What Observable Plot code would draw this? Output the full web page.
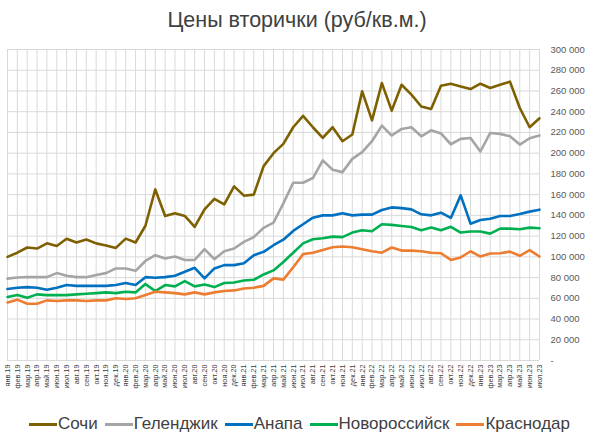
<!DOCTYPE html>
<html>
<head>
<meta charset="utf-8">
<script src="https://cdn.jsdelivr.net/npm/d3@7"></script>
<script src="https://cdn.jsdelivr.net/npm/@observablehq/plot@0.6"></script>
<style>
  body { margin: 0; background: #fff; font-family: "Liberation Sans", sans-serif; }
  #wrap { width: 594px; height: 445px; position: relative; }
  #title { height: 40px; line-height: 40px; text-align: center; font-size: 21.5px; color: #404040; }
  #legend { position: absolute; top: 414px; left: 29px; display: flex; font-size: 17px; color: #404040; white-space: nowrap; }
  #legend span.item { display: flex; align-items: center; margin-right: 7px; }
  #legend span.sw { display: inline-block; width: 28px; height: 3px; margin-right: 1px; }
</style>
</head>
<body>
<div id="wrap">
  <div id="title">Цены вторички (руб/кв.м.)</div>
  <div id="chart"></div>
  <div id="legend"></div>
</div>
<script>
// месяцы
const months = [
  "янв.19","фев.19","мар.19","апр.19","май.19","июн.19","июл.19","авг.19","сен.19","окт.19","ноя.19","дек.19",
  "янв.20","фев.20","мар.20","апр.20","май.20","июн.20","июл.20","авг.20","сен.20","окт.20","ноя.20","дек.20",
  "янв.21","фев.21","мар.21","апр.21","май.21","июн.21","июл.21","авг.21","сен.21","окт.21","ноя.21","дек.21",
  "янв.22","фев.22","мар.22","апр.22","май.22","июн.22","июл.22","авг.22","сен.22","окт.22","ноя.22","дек.22",
  "янв.23","фев.23","мар.23","апр.23","май.23","июн.23","июл.23"
];

const cities = ["Сочи", "Геленджик", "Анапа", "Новороссийск", "Краснодар"];
const colors = ["#7F6000", "#A5A5A5", "#0070C0", "#00B050", "#ED7D31"];

const sochi = [
  100000,104000,109000,108000,113000,110500,117500,113800,116700,113000,111000,108600,
  117600,113800,130000,165000,139400,142000,139400,128800,145800,156000,150600,168000,
  159000,160000,187500,200000,209000,225000,236000,225000,214700,225000,211500,218000,
  259600,231700,267600,241000,266000,256400,245000,242600,265000,267000,264400,261800,
  267000,262800,266000,269000,243600,225000,233600
];
const gelendzhik = [
  79000,80000,80400,80400,80400,84300,81700,80400,80400,82400,84300,88800,
  88800,86500,96000,101600,98400,100300,97000,97000,107400,97800,105400,108000,
  114400,119000,128000,133000,151600,171500,171500,176000,193000,184000,181700,194500,
  201000,211500,226600,217000,223400,225000,216300,222000,219000,208600,213800,214700,
  201600,219500,218600,216300,208300,214400,217000
];
const anapa = [
  69000,70200,70800,70200,68300,70200,72800,72000,72000,72000,72000,72800,
  74700,72800,80400,79800,80400,81700,85600,89400,79200,88800,92000,92000,
  93900,101600,104800,111200,116500,125000,131400,137800,140000,140000,142000,140000,
  140700,140700,145200,147700,147000,145800,141000,140000,142600,137500,159300,132000,
  135600,136800,139400,139400,141300,143600,145500
];
const novoross = [
  61200,63100,60600,63800,63100,63100,63100,63800,64400,65000,65700,65000,
  66300,65700,73700,67000,72800,71500,76600,71500,73400,70800,74700,75300,
  77200,77900,83000,86900,95000,104000,113000,117000,118000,119500,119000,123400,
  125600,124700,131400,130800,129800,128800,125600,128200,125600,129000,123400,124400,
  124400,122400,127200,127200,126600,128200,127600
];
const krasnodar = [
  56000,58700,54800,54800,58000,57400,58000,58000,57400,58000,58000,60000,
  59300,60000,63100,66300,65700,65000,63800,65700,63800,65700,67000,67600,
  69500,70200,72000,79200,78000,90000,102600,104000,106700,109300,110000,109300,
  107400,105400,104000,109000,106000,106000,105400,104000,103500,97000,99400,105400,
  100300,103200,103500,105000,101000,106400,100300
];

const yTicks = d3.range(0, 300001, 20000);

const series = [sochi, gelendzhik, anapa, novoross, krasnodar];
const rows = [];
series.forEach((vals, k) => vals.forEach((v, i) => rows.push({city: cities[k], month: months[i], value: v})));

const fmt = d => d === 0 ? "-" : d3.format(",")(d).replace(/,/g, " ");

const chart = Plot.plot({
  width: 594,
  height: 370,
  marginTop: 9,
  marginBottom: 50,
  marginLeft: 7,
  marginRight: 55,
  style: {fontFamily: "Liberation Sans, sans-serif", color: "#595959"},
  x: {type: "point", domain: months, padding: 0},
  y: {domain: [0, 300000]},
  color: {domain: cities, range: colors},
  marks: [
    Plot.gridY(yTicks, {stroke: "#d9d9d9", strokeOpacity: 1}),
    Plot.gridX(months, {stroke: "#d9d9d9", strokeOpacity: 1}),
    Plot.axisY(yTicks, {anchor: "right", tickSize: 0, tickPadding: 11, textAnchor: "start", tickFormat: fmt, fontSize: 9.5, fill: "#595959", label: null}),
    Plot.axisX({tickSize: 0, tickPadding: 4, tickRotate: -90, fontSize: 7.3, fill: "#404040", label: null}),
    Plot.line(rows, {x: "month", y: "value", z: "city", stroke: "city", strokeWidth: 2.6, strokeLinejoin: "round"})
  ]
});
document.getElementById("chart").append(chart);

// легенда
const legend = d3.select("#legend");
cities.forEach((c, k) => {
  const item = legend.append("span").attr("class", "item");
  item.append("span").attr("class", "sw").style("background", colors[k]);
  item.append("span").text(c);
});
</script>
</body>
</html>
